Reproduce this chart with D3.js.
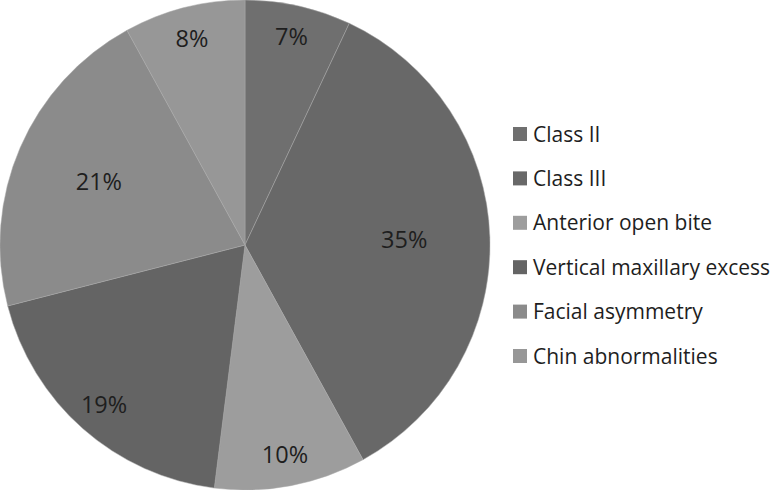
<!DOCTYPE html>
<html>
<head>
<meta charset="utf-8">
<script src="https://cdn.jsdelivr.net/npm/d3@7"></script>
<style>
  html, body { margin: 0; padding: 0; background: #fff; }
  svg { display: block; }
  text { font-family: "Open Sans", "Liberation Sans", sans-serif; fill: #1e1e1e; }
</style>
</head>
<body>
<svg id="chart" width="774" height="490"></svg>
<script>
// ---- Data ----
const categories = ["Class II", "Class III", "Anterior open bite", "Vertical maxillary excess", "Facial asymmetry", "Chin abnormalities"];
const shares = [7, 35, 10, 19, 21, 8];
const greys = ["#6f6f6f", "#686868", "#9d9d9d", "#646464", "#8b8b8b", "#979797"];

const svg = d3.select("#chart");
const cx = 245, cy = 245, R = 245;

const data = categories.map((c, i) => ({ label: c, value: shares[i] }));
const color = d3.scaleOrdinal().domain(categories).range(greys);

const pie = d3.pie().value(d => d.value).sort(null);
const arc = d3.arc().innerRadius(0).outerRadius(R);
const arcs = pie(data);

const g = svg.append("g").attr("transform", `translate(${cx},${cy})`);

g.selectAll("path")
  .data(arcs)
  .join("path")
  .attr("d", arc)
  .attr("fill", d => color(d.data.label))
  .attr("stroke", "#a8a8a8")
  .attr("stroke-width", 0.5);

// big slices get their label pulled in, small ones sit near the rim
g.selectAll("text.pct")
  .data(arcs)
  .join("text")
  .attr("class", "pct")
  .attr("transform", d => {
    const r = d.data.value >= 20 ? R * 0.65 : R * 0.87;
    const a = (d.startAngle + d.endAngle) / 2;
    return `translate(${r * Math.sin(a)},${-r * Math.cos(a)})`;
  })
  .attr("text-anchor", "middle")
  .attr("dy", "0.36em")
  .style("font-size", "23.5px")
  .text(d => d.data.value + "%");

// ---- Legend ----
const legend = svg.append("g").attr("transform", "translate(513,134)");
const item = legend.selectAll("g")
  .data(data)
  .join("g")
  .attr("transform", (d, i) => `translate(0,${i * 44.4})`);

item.append("rect")
  .attr("x", 0).attr("y", -7)
  .attr("width", 14).attr("height", 14)
  .attr("fill", d => color(d.label));

item.append("text")
  .attr("x", 20)
  .attr("dy", "0.36em")
  .style("font-size", "21px")
  .text(d => d.label);
</script>
</body>
</html>
